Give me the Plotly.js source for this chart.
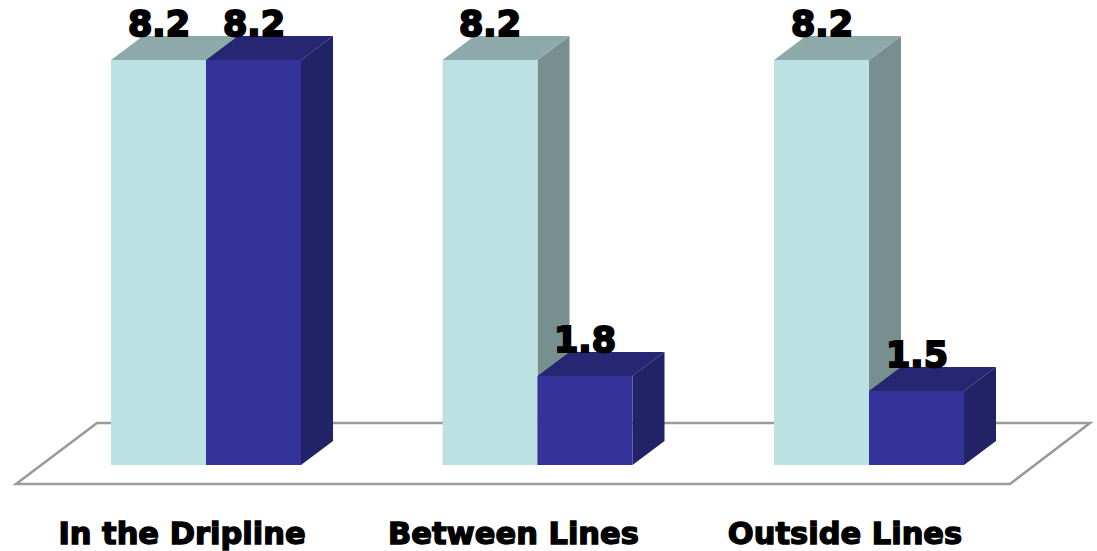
<!DOCTYPE html>
<html>
<head>
<meta charset="utf-8">
<script src="https://cdn.plot.ly/plotly-3.0.1.min.js"></script>
<style>
  html, body { margin: 0; padding: 0; background: #fff; }
  #chart { width: 1097px; height: 551px; }
  /* heavy weight for the category and value labels */
  .xtick text { stroke: #000; stroke-width: 1.4px; paint-order: stroke; }
  .annotation-text { stroke: #000; stroke-width: 2px; paint-order: stroke; }
</style>
</head>
<body>
<div id="chart"></div>
<script>
const categories = ['In the Dripline', 'Between Lines', 'Outside Lines'];
const seriesA = [8.2, 8.2, 8.2];
const seriesB = [8.2, 1.8, 1.5];

const W = 1097, H = 551, plotH = 500;
const groupPx = 331.5, unitPx = 49.39, baseX = 206, baseY = 465;
const barW = 95 / groupPx;
const depthX = 32 / groupPx, depthY = 24 / unitPx;
const tickShift = 24 / groupPx;

// Side or top faces as closed polygons, separated by nulls.
function faces(values, offset, kind) {
  const xs = [], ys = [];
  values.forEach((v, i) => {
    const l = i + offset - barW / 2, r = i + offset + barW / 2;
    if (kind === 'top') {
      xs.push(l, r, r + depthX, l + depthX, l, null);
      ys.push(v, v, v + depthY, v + depthY, v, null);
    } else {
      xs.push(r, r + depthX, r + depthX, r, r, null);
      ys.push(v, v + depthY, depthY, 0, v, null);
    }
  });
  return { xs, ys };
}

function faceTrace(values, offset, kind, color) {
  const f = faces(values, offset, kind);
  return {
    type: 'scatter', mode: 'lines', x: f.xs, y: f.ys, fill: 'toself',
    fillcolor: color, line: { width: 0, color: color },
    hoverinfo: 'skip', showlegend: false, xaxis: 'x', yaxis: 'y'
  };
}

const idx = categories.map((_, i) => i);
const offA = -barW / 2, offB = barW / 2;

const traces = [
  faceTrace(seriesA, offA, 'side', '#788F90'),
  faceTrace(seriesA, offA, 'top', '#8DA9AA'),
  faceTrace(seriesB, offB, 'side', '#222266'),
  faceTrace(seriesB, offB, 'top', '#262673'),
  { type: 'bar', x: idx, y: seriesA, marker: { color: '#BCE1E2', line: { width: 0 } },
    xaxis: 'x2', yaxis: 'y2', hoverinfo: 'skip', showlegend: false },
  { type: 'bar', x: idx, y: seriesB, marker: { color: '#333399', line: { width: 0 } },
    xaxis: 'x2', yaxis: 'y2', hoverinfo: 'skip', showlegend: false }
];

function valueLabels(values, offset) {
  return values.map((v, i) => ({
    x: i + offset, y: v, xref: 'x', yref: 'y', text: v.toFixed(1),
    showarrow: false, xanchor: 'center', yanchor: 'middle', yshift: 36,
    font: { family: '"DejaVu Sans", sans-serif', size: 35, color: '#000', weight: 700 }
  }));
}

const xRange = [-baseX / groupPx, (W - baseX) / groupPx];
const yRange = [-(plotH - baseY) / unitPx, baseY / unitPx];

// Ground plane, placed in paper fractions of the plot area.
const px = v => (v / W).toFixed(5);
const py = v => (1 - v / plotH).toFixed(5);
const floorPath = [[16, 484], [97, 423], [1090, 423], [1010, 484]]
  .map((p, i) => (i ? 'L' : 'M') + px(p[0]) + ' ' + py(p[1])).join(' ') + ' Z';

const layout = {
  width: W, height: H,
  margin: { l: 0, r: 0, t: 0, b: H - plotH, pad: 0 },
  paper_bgcolor: '#fff', plot_bgcolor: '#fff',
  showlegend: false,
  barmode: 'group', bargap: 1 - 2 * barW, bargroupgap: 0,
  xaxis: {
    range: xRange, showgrid: false, zeroline: false, showline: false,
    tickmode: 'array', tickvals: idx.map(i => i - tickShift), ticktext: categories,
    ticks: '', ticklabelstandoff: 12, tickangle: 0, fixedrange: true,
    tickfont: { family: '"DejaVu Sans", sans-serif', size: 30.5, color: '#000', weight: 700 }
  },
  yaxis: { range: yRange, visible: false, fixedrange: true },
  xaxis2: { range: xRange, overlaying: 'x', visible: false, fixedrange: true },
  yaxis2: { range: yRange, overlaying: 'y', visible: false, fixedrange: true },
  shapes: [{
    type: 'path', xref: 'paper', yref: 'paper', layer: 'below',
    path: floorPath, line: { color: '#999999', width: 2.5 }, fillcolor: 'rgba(255,255,255,0)'
  }],
  annotations: valueLabels(seriesA, offA).concat(valueLabels(seriesB, offB))
};

Plotly.newPlot('chart', traces, layout, { displayModeBar: false, staticPlot: true });
</script>
</body>
</html>
